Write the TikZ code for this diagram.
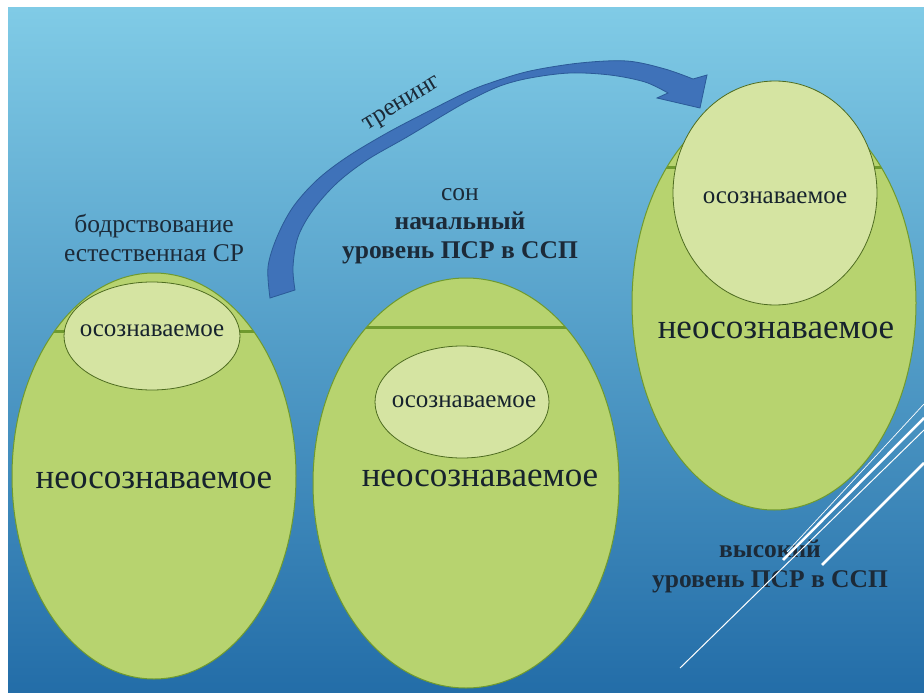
\documentclass[tikz,border=0pt]{standalone}
\usepackage{fontspec}
\setmainfont{Liberation Serif}
\definecolor{bgtop}{HTML}{80CBE6}
\definecolor{bgmid}{HTML}{45A0D2}
\definecolor{bgbot}{HTML}{236DA8}
\definecolor{eggfill}{HTML}{B7D36F}
\definecolor{eggline}{HTML}{6F9A2E}
\definecolor{corefill}{HTML}{D5E4A2}
\definecolor{arrowblue}{HTML}{3F72B9}
\definecolor{arrowedge}{HTML}{2B5A97}
\definecolor{inktext}{HTML}{1C2A38}

\tikzset{
  egg/.style={fill=eggfill, draw=eggline, line width=1pt},
  core/.style={fill=corefill, draw=eggline!70!black, line width=0.8pt},
  border/.style={draw=eggline, line width=3pt},
  bigword/.style={font=\fontsize{35}{40}\selectfont, text=inktext!80!black},
  smallword/.style={font=\fontsize{25}{29}\selectfont, text=inktext!80!black},
  caption/.style={font=\fontsize{25.5}{29}\selectfont, text=inktext, align=center},
  streak/.style={white, line width=#1},
}

\begin{document}
\begin{tikzpicture}[x=1pt,y=-1pt]
    \useasboundingbox (0,0) rectangle (924,693);
    \fill[white] (0,0) rectangle (924,693);
    \shade[top color=bgtop, middle color=bgmid, bottom color=bgbot] (8,8) rectangle (924,693);
    % bodrstvovanie
    \path[egg] (154,476) ellipse (142 and 203);
    \begin{scope}
      \clip (154,476) ellipse (142 and 203);
      \draw[border] (0,331) -- (400,331);
    \end{scope}
    \path[core] (152,336) ellipse (88 and 54);
    % son
    \path[egg] (466,483) ellipse (153 and 205);
    \begin{scope}
      \clip (466,483) ellipse (153 and 205);
      \draw[border] (300,327) -- (640,327);
    \end{scope}
    \path[core] (462,402) ellipse (87 and 56);
    % vysokiy
    \path[egg] (774,303) ellipse (142 and 207);
    \begin{scope}
      \clip (774,303) ellipse (142 and 207);
      \draw[border] (620,167) -- (924,167);
    \end{scope}
    \path[core] (775,193) ellipse (102 and 112);
    \filldraw[fill=arrowblue, draw=arrowedge, line width=0.8pt]
      plot[smooth, tension=0.55] coordinates {(270,298) (268,267) (277,237) (293,207) (317,180)
        (347,157) (387,133) (427,112) (467,92) (493,82) (530,71) (580,63) (627,61) (665,69) (693,79)}
      -- (707,75) -- (700,108) -- (657,98)
      -- plot[smooth, tension=0.55] coordinates {(668,93) (645,82) (610,75) (570,73) (530,78)
        (500,86) (470,100) (447,113) (407,137) (367,160) (337,183) (313,210) (298,237) (293,267) (295,290)} -- cycle;

    \node[caption, rotate=31] (training) at (403,105) {тренинг};
    \node[caption] (wake) at (154,238) {бодрствование\\естественная СР};
    \node[caption] (sleep) at (460,226) {сон\\\textbf{начальный}\\\textbf{уровень ПСР в ССП}};
    \node[caption, font=\fontsize{25.5}{30}\selectfont\bfseries] (high) at (770,566) {высокий\\уровень ПСР в ССП};
    \node[smallword] (wakeAware) at (152,331) {осознаваемое};
    \node[bigword] (wakeDeep) at (154,480) {неосознаваемое};
    \node[smallword] (sleepAware) at (464,402) {осознаваемое};
    \node[bigword] (sleepDeep) at (480,478) {неосознаваемое};
    \node[smallword] (highAware) at (775,198) {осознаваемое};
    \node[bigword] (highDeep) at (776,330) {неосознаваемое};
    % streaks
    \draw[streak=1pt] (680,668) -- (924,430);
    \draw[streak=0.7pt] (787,552) -- (924,404);
    \draw[streak=2.5pt] (783,560) -- (924,418);
    \draw[streak=2.5pt] (822,565) -- (924,463);
  \end{tikzpicture}
\end{document}
